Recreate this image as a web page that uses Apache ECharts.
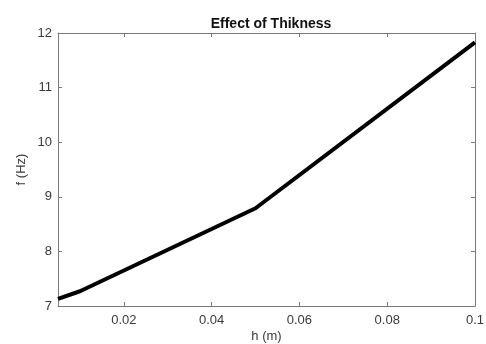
<!DOCTYPE html>
<html>
<head>
<meta charset="utf-8">
<script src="https://cdn.jsdelivr.net/npm/echarts@6/dist/echarts.min.js"></script>
<style>
html,body{margin:0;padding:0;background:#fff;}
#chart{width:486px;height:344px;}
</style>
</head>
<body>
<div id="chart"></div>
<script>
var hValues=[0.005,0.01,0.05,0.1];
var fValues=[7.13,7.27,8.79,11.83];
var xTicks=[0.02,0.04,0.06,0.08,0.1];
var yTicks=[7,8,9,10,11,12];

var FONT='"Liberation Sans", Arial, sans-serif';
var AXIS_COLOR='#7a7a7a';
var TEXT_COLOR='#3a3a3a';

var myChart=echarts.init(document.getElementById('chart'));

var points=[];
for(var i=0;i<hValues.length;i++){
    points.push([hValues[i],fValues[i]]);
}

function boxAxis(extra){
    var a={
        type:'value',
        axisLine:{show:true,onZero:false,lineStyle:{color:AXIS_COLOR,width:1}},
        axisTick:{show:true,inside:true,length:4,lineStyle:{color:AXIS_COLOR}},
        splitLine:{show:false},
        axisLabel:{show:true,color:TEXT_COLOR,fontFamily:FONT,fontSize:13}
    };
    for(var k in extra){a[k]=extra[k];}
    return a;
}

var option={
    animation:false,
    title:{
        text:'Effect of Thikness',
        left:266,
        textAlign:'center',
        top:12,
        textStyle:{fontFamily:FONT,fontSize:14,fontWeight:'bold',color:'#111'}
    },
    grid:{left:58,right:11,top:33,bottom:38,outerBoundsMode:'none',containLabel:false},
    xAxis:[
        boxAxis({
            position:'bottom',min:0.005,max:0.1,
            name:'h (m)',nameLocation:'middle',nameGap:24,nameMoveOverlap:false,
            nameTextStyle:{fontFamily:FONT,fontSize:13,color:TEXT_COLOR},
            axisTick:{show:true,inside:true,length:4,customValues:xTicks,lineStyle:{color:AXIS_COLOR}},
            axisLabel:{color:TEXT_COLOR,fontFamily:FONT,fontSize:13,margin:8,customValues:xTicks}
        }),
        boxAxis({
            position:'top',min:0.005,max:0.1,
            axisTick:{show:true,inside:true,length:4,customValues:xTicks,lineStyle:{color:AXIS_COLOR}},
            axisLabel:{show:false}
        })
    ],
    yAxis:[
        boxAxis({
            position:'left',min:7,max:12,interval:1,
            name:'f (Hz)',nameLocation:'middle',nameGap:30,nameMoveOverlap:false,
            nameTextStyle:{fontFamily:FONT,fontSize:13,color:TEXT_COLOR},
            axisLabel:{color:TEXT_COLOR,fontFamily:FONT,fontSize:13,margin:6}
        }),
        boxAxis({
            position:'right',min:7,max:12,interval:1,
            axisLabel:{show:false}
        })
    ],
    series:[{
        type:'line',
        data:points,
        showSymbol:false,
        symbol:'none',
        lineStyle:{color:'#000',width:4},
        xAxisIndex:0,
        yAxisIndex:0
    }]
};
myChart.setOption(option);
</script>
</body>
</html>
